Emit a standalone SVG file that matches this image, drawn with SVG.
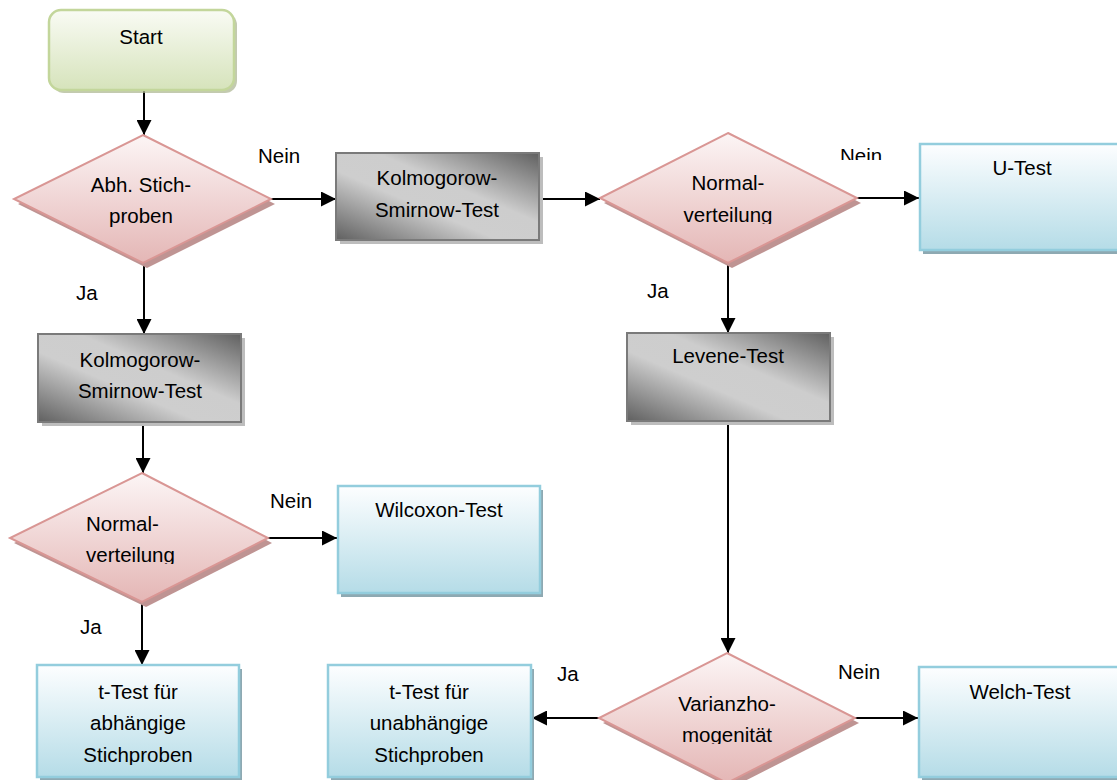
<svg xmlns="http://www.w3.org/2000/svg" width="1117" height="780" viewBox="0 0 1117 780">
<style>
.t{font-family:"Liberation Sans",Arial,sans-serif;font-size:20.5px;fill:#000;text-anchor:middle}
.l{font-family:"Liberation Sans",Arial,sans-serif;font-size:20.5px;fill:#000}
.dia{fill:url(#pink);stroke:#d99694;stroke-width:2}
.diash{fill:#bf9493}
.gray{fill:url(#gray);stroke:#7a7a7a;stroke-width:2}
.graysh{fill:#bdbdbd}
.blue{fill:url(#blue);stroke:#93cddd;stroke-width:2.5}
.bluesh{fill:#8ea9b2}
.con{stroke:#000;stroke-width:2;fill:none;marker-end:url(#arr)}
</style>
<defs>
<linearGradient id="green" x1="0" y1="0" x2="0" y2="1"><stop offset="0" stop-color="#f9fbf4"/><stop offset="1" stop-color="#d6e3bb"/></linearGradient>
<linearGradient id="pink" x1="0" y1="0" x2="0" y2="1"><stop offset="0" stop-color="#fcf5f5"/><stop offset="1" stop-color="#e4b6b5"/></linearGradient>
<linearGradient id="blue" x1="0" y1="0" x2="0" y2="1"><stop offset="0" stop-color="#fdfeff"/><stop offset="1" stop-color="#b5dce7"/></linearGradient>
<linearGradient id="gray" x1="1" y1="0" x2="0" y2="1"><stop offset="0" stop-color="#606060"/><stop offset="0.4" stop-color="#cdcdcd"/><stop offset="0.6" stop-color="#cecece"/><stop offset="1" stop-color="#606060"/></linearGradient>
<marker id="arr" viewBox="0 0 15 15" refX="15" refY="7.5" markerWidth="15" markerHeight="15" markerUnits="userSpaceOnUse" orient="auto"><path d="M0,0 L15,7.5 L0,15 Z" fill="#000"/></marker>
<clipPath id="c2"><rect x="0" y="0" width="1117" height="224"/></clipPath>
<clipPath id="c3"><rect x="0" y="0" width="1117" height="564"/></clipPath>
<clipPath id="c4"><rect x="0" y="0" width="1117" height="744"/></clipPath>
<clipPath id="cb"><rect x="0" y="0" width="1117" height="765"/></clipPath>
<clipPath id="cn"><rect x="0" y="0" width="1117" height="160"/></clipPath>
</defs>

<g id="connectors">
<line class="con" x1="144" y1="90" x2="144" y2="135"/>
<line class="con" x1="271" y1="199" x2="336" y2="199"/>
<line class="con" x1="539" y1="199" x2="600" y2="199"/>
<line class="con" x1="857" y1="198" x2="919" y2="198"/>
<line class="con" x1="144" y1="263" x2="144" y2="334"/>
<line class="con" x1="143" y1="422" x2="143" y2="473"/>
<line class="con" x1="268" y1="538" x2="337" y2="538"/>
<line class="con" x1="142" y1="602" x2="142" y2="665"/>
<line class="con" x1="728" y1="263" x2="728" y2="333"/>
<line class="con" x1="728" y1="421" x2="728" y2="653"/>
<line class="con" x1="599" y1="718" x2="532" y2="718"/>
<line class="con" x1="855" y1="718" x2="918" y2="718"/>
<text class="l" x="258" y="163">Nein</text>
<text class="l" x="840" y="163" clip-path="url(#cn)">Nein</text>
<text class="l" x="76" y="300">Ja</text>
<text class="l" x="647" y="298">Ja</text>
<text class="l" x="270" y="508">Nein</text>
<text class="l" x="80" y="634">Ja</text>
<text class="l" x="557" y="681">Ja</text>
<text class="l" x="838" y="679">Nein</text>
</g>

<g id="start">
<rect x="52" y="13" width="185" height="80" rx="12" fill="#a9b38f" opacity="0.7"/>
<rect x="49" y="10" width="185" height="80" rx="12" fill="url(#green)" stroke="#c3d69b" stroke-width="2.5"/>
<text class="t" x="141" y="44">Start</text>
</g>

<g id="d_abh">
<polygon class="diash" points="147,140 275,204 147,268 18,204"/>
<polygon class="dia" points="143,135 271,199 143,263 14,199"/>
<text class="t" x="141" y="192">Abh. Stich-</text>
<text class="t" x="141" y="223">proben</text>
</g>

<g id="ks1">
<rect class="graysh" x="340" y="157" width="203" height="87"/>
<rect class="gray" x="336" y="153" width="203" height="87"/>
<text class="t" x="437" y="185">Kolmogorow-</text>
<text class="t" x="437" y="217">Smirnow-Test</text>
</g>

<g id="d_norm2">
<polygon class="diash" points="732,138 861,203 732,268 604,203"/>
<polygon class="dia" points="728,133 857,198 728,263 600,198"/>
<g clip-path="url(#c2)">
<text class="t" x="728" y="190">Normal-</text>
<text class="t" x="728" y="222">verteilung</text>
</g>
</g>

<g id="utest">
<rect class="bluesh" x="923" y="148" width="204" height="106"/>
<rect class="blue" x="920" y="144" width="204" height="106"/>
<text class="t" x="1022" y="175">U-Test</text>
</g>

<g id="ks2">
<rect class="graysh" x="42" y="338" width="203" height="88"/>
<rect class="gray" x="38" y="334" width="203" height="88"/>
<text class="t" x="140" y="367">Kolmogorow-</text>
<text class="t" x="140" y="398">Smirnow-Test</text>
</g>

<g id="levene">
<rect class="graysh" x="631" y="337" width="203" height="88"/>
<rect class="gray" x="627" y="333" width="203" height="88"/>
<text class="t" x="728" y="363">Levene-Test</text>
</g>

<g id="d_norm3">
<polygon class="diash" points="146,478 272,543 146,607 14,543"/>
<polygon class="dia" points="142,473 268,538 142,602 10,538"/>
<g clip-path="url(#c3)">
<text class="l" x="86" y="531">Normal-</text>
<text class="l" x="86" y="562">verteilung</text>
</g>
</g>

<g id="wilcoxon">
<rect class="bluesh" x="341" y="490" width="202" height="107"/>
<rect class="blue" x="338" y="486" width="202" height="107"/>
<text class="t" x="439" y="517">Wilcoxon-Test</text>
</g>

<g id="ttest_abh">
<rect class="bluesh" x="40" y="669" width="202" height="112"/>
<rect class="blue" x="37" y="665" width="202" height="112"/>
<g clip-path="url(#cb)">
<text class="t" x="138" y="699">t-Test für</text>
<text class="t" x="138" y="730">abhängige</text>
<text class="t" x="138" y="762">Stichproben</text>
</g>
</g>

<g id="ttest_unabh">
<rect class="bluesh" x="331" y="669" width="203" height="112"/>
<rect class="blue" x="328" y="665" width="203" height="112"/>
<g clip-path="url(#cb)">
<text class="t" x="429" y="699">t-Test für</text>
<text class="t" x="429" y="730">unabhängige</text>
<text class="t" x="429" y="762">Stichproben</text>
</g>
</g>

<g id="d_varianz">
<polygon class="diash" points="731,658 859,723 731,788 603,723"/>
<polygon class="dia" points="727,653 855,718 727,783 599,718"/>
<g clip-path="url(#c4)">
<text class="t" x="727" y="711">Varianzho-</text>
<text class="t" x="727" y="742">mogenität</text>
</g>
</g>

<g id="welch">
<rect class="bluesh" x="922" y="671" width="204" height="110"/>
<rect class="blue" x="919" y="667" width="204" height="110"/>
<text class="t" x="1020" y="699">Welch-Test</text>
</g>
</svg>
